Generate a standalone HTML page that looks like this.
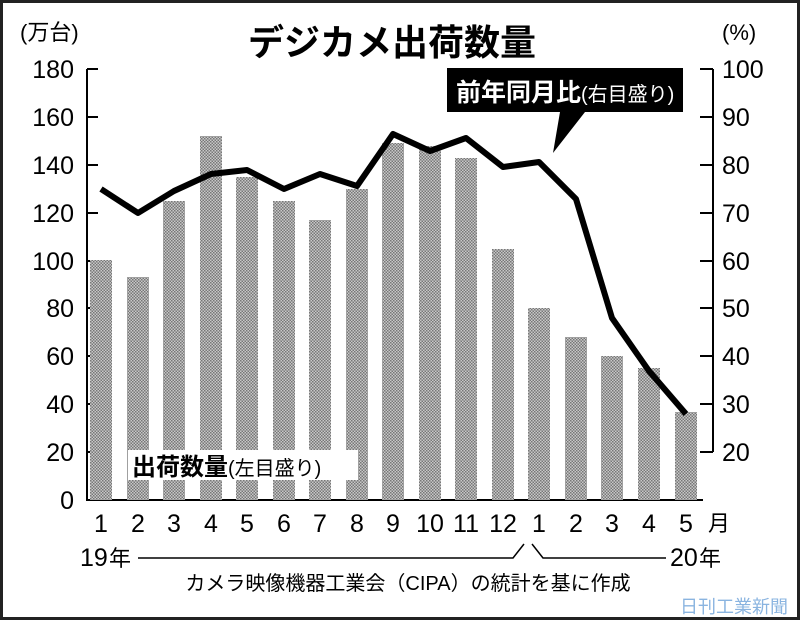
<!DOCTYPE html>
<html><head><meta charset="utf-8"><style>
body{margin:0;background:#fff}
svg{display:block;font-family:"Liberation Sans","Noto Sans CJK JP",sans-serif}
</style></head><body>
<svg width="800" height="620" viewBox="0 0 800 620" xmlns="http://www.w3.org/2000/svg">
<defs>
<pattern id="p" width="3" height="3" patternUnits="userSpaceOnUse">
<rect width="3" height="3" fill="#c8c8c8"/>
<rect width="1.5" height="1.5" fill="#777"/>
<rect x="1.5" y="1.5" width="1.5" height="1.5" fill="#777"/>
</pattern>
</defs>
<rect x="1.5" y="1.5" width="797" height="617" fill="#fff" stroke="#222" stroke-width="3"/>
<text x="20" y="40" font-size="22">(万台)</text>
<text x="722" y="40" font-size="22">(%)</text>
<text x="392" y="55" font-size="36" font-weight="bold" text-anchor="middle">デジカメ出荷数量</text>
<!-- axes -->
<g stroke="#000" stroke-width="2" fill="none">
<line x1="87" y1="69" x2="87" y2="500"/>
<line x1="713" y1="69" x2="713" y2="452"/>
<line x1="86" y1="500" x2="703" y2="500"/>
</g>
<g stroke="#000" stroke-width="2">
<line x1="87" y1="69" x2="98" y2="69"/><line x1="87" y1="117" x2="98" y2="117"/><line x1="87" y1="165" x2="98" y2="165"/><line x1="87" y1="213" x2="98" y2="213"/><line x1="87" y1="261" x2="98" y2="261"/><line x1="87" y1="308" x2="98" y2="308"/><line x1="87" y1="356" x2="98" y2="356"/><line x1="87" y1="404" x2="98" y2="404"/><line x1="87" y1="452" x2="98" y2="452"/>
<line x1="700" y1="69" x2="713" y2="69"/><line x1="700" y1="117" x2="713" y2="117"/><line x1="700" y1="165" x2="713" y2="165"/><line x1="700" y1="213" x2="713" y2="213"/><line x1="700" y1="261" x2="713" y2="261"/><line x1="700" y1="308" x2="713" y2="308"/><line x1="700" y1="356" x2="713" y2="356"/><line x1="700" y1="404" x2="713" y2="404"/><line x1="700" y1="452" x2="713" y2="452"/>
</g>
<g font-size="25" text-anchor="end">
<text x="74" y="78">180</text><text x="74" y="126">160</text><text x="74" y="174">140</text><text x="74" y="222">120</text><text x="74" y="270">100</text><text x="74" y="317">80</text><text x="74" y="365">60</text><text x="74" y="413">40</text><text x="74" y="461">20</text><text x="74" y="509">0</text>
</g>
<g font-size="25">
<text x="722" y="78">100</text><text x="722" y="126">90</text><text x="722" y="174">80</text><text x="722" y="222">70</text><text x="722" y="270">60</text><text x="722" y="317">50</text><text x="722" y="365">40</text><text x="722" y="413">30</text><text x="722" y="461">20</text>
</g>
<!-- bars -->
<g fill="url(#p)">
<rect x="90" y="260" width="22" height="240"/>
<rect x="127" y="277" width="22" height="223"/>
<rect x="163" y="201" width="22" height="299"/>
<rect x="200" y="136" width="22" height="364"/>
<rect x="236" y="177" width="22" height="323"/>
<rect x="273" y="201" width="22" height="299"/>
<rect x="309" y="220" width="22" height="280"/>
<rect x="346" y="189" width="22" height="311"/>
<rect x="382" y="143" width="22" height="357"/>
<rect x="419" y="146" width="22" height="354"/>
<rect x="455" y="158" width="22" height="342"/>
<rect x="492" y="249" width="22" height="251"/>
<rect x="528" y="308" width="22" height="192"/>
<rect x="565" y="337" width="22" height="163"/>
<rect x="601" y="356" width="22" height="144"/>
<rect x="638" y="368" width="22" height="132"/>
<rect x="675" y="412" width="22" height="88"/>
</g>
<!-- line -->
<polyline fill="none" stroke="#000" stroke-width="6" stroke-linejoin="round" points="101,189 138,213 174,191 211,174 247,170 284,189 320,174 357,186 393,134 430,151 466,138 503,167 539,162 576,199 612,318 649,371 686,414"/>
<!-- callout -->
<polygon points="447,68 683,68 683,112 585,112 553,153 560,112 447,112" fill="#000"/>
<text x="456" y="101" font-size="25" font-weight="bold" fill="#fff">前年同月比<tspan font-size="20" font-weight="normal">(右目盛り)</tspan></text>
<!-- left label -->
<rect x="128" y="450" width="230" height="30" fill="#fff"/>
<text x="132" y="475" font-size="24" font-weight="bold">出荷数量<tspan font-size="20" font-weight="normal">(左目盛り)</tspan></text>
<!-- x labels -->
<g font-size="25" text-anchor="middle">
<text x="101" y="532">1</text><text x="138" y="532">2</text><text x="174" y="532">3</text><text x="211" y="532">4</text><text x="247" y="532">5</text><text x="284" y="532">6</text><text x="320" y="532">7</text><text x="357" y="532">8</text><text x="393" y="532">9</text><text x="430" y="532">10</text><text x="466" y="532">11</text><text x="503" y="532">12</text><text x="539" y="532">1</text><text x="576" y="532">2</text><text x="612" y="532">3</text><text x="649" y="532">4</text><text x="686" y="532">5</text>
</g>
<text x="708" y="531" font-size="22">月</text>
<text x="80" y="566" font-size="25">19</text><text x="109" y="566" font-size="22">年</text>
<text x="670" y="566" font-size="25">20</text><text x="699" y="566" font-size="22">年</text>
<polyline fill="none" stroke="#000" stroke-width="1.5" points="138,558 513,558 524,544"/>
<polyline fill="none" stroke="#000" stroke-width="1.5" points="532,544 543,558 666,558"/>
<text x="408" y="590" font-size="20" text-anchor="middle">カメラ映像機器工業会（CIPA）の統計を基に作成</text>
<text x="680" y="613" font-size="18" fill="#8ab4e0">日刊工業新聞</text>
</svg>
</body></html>
